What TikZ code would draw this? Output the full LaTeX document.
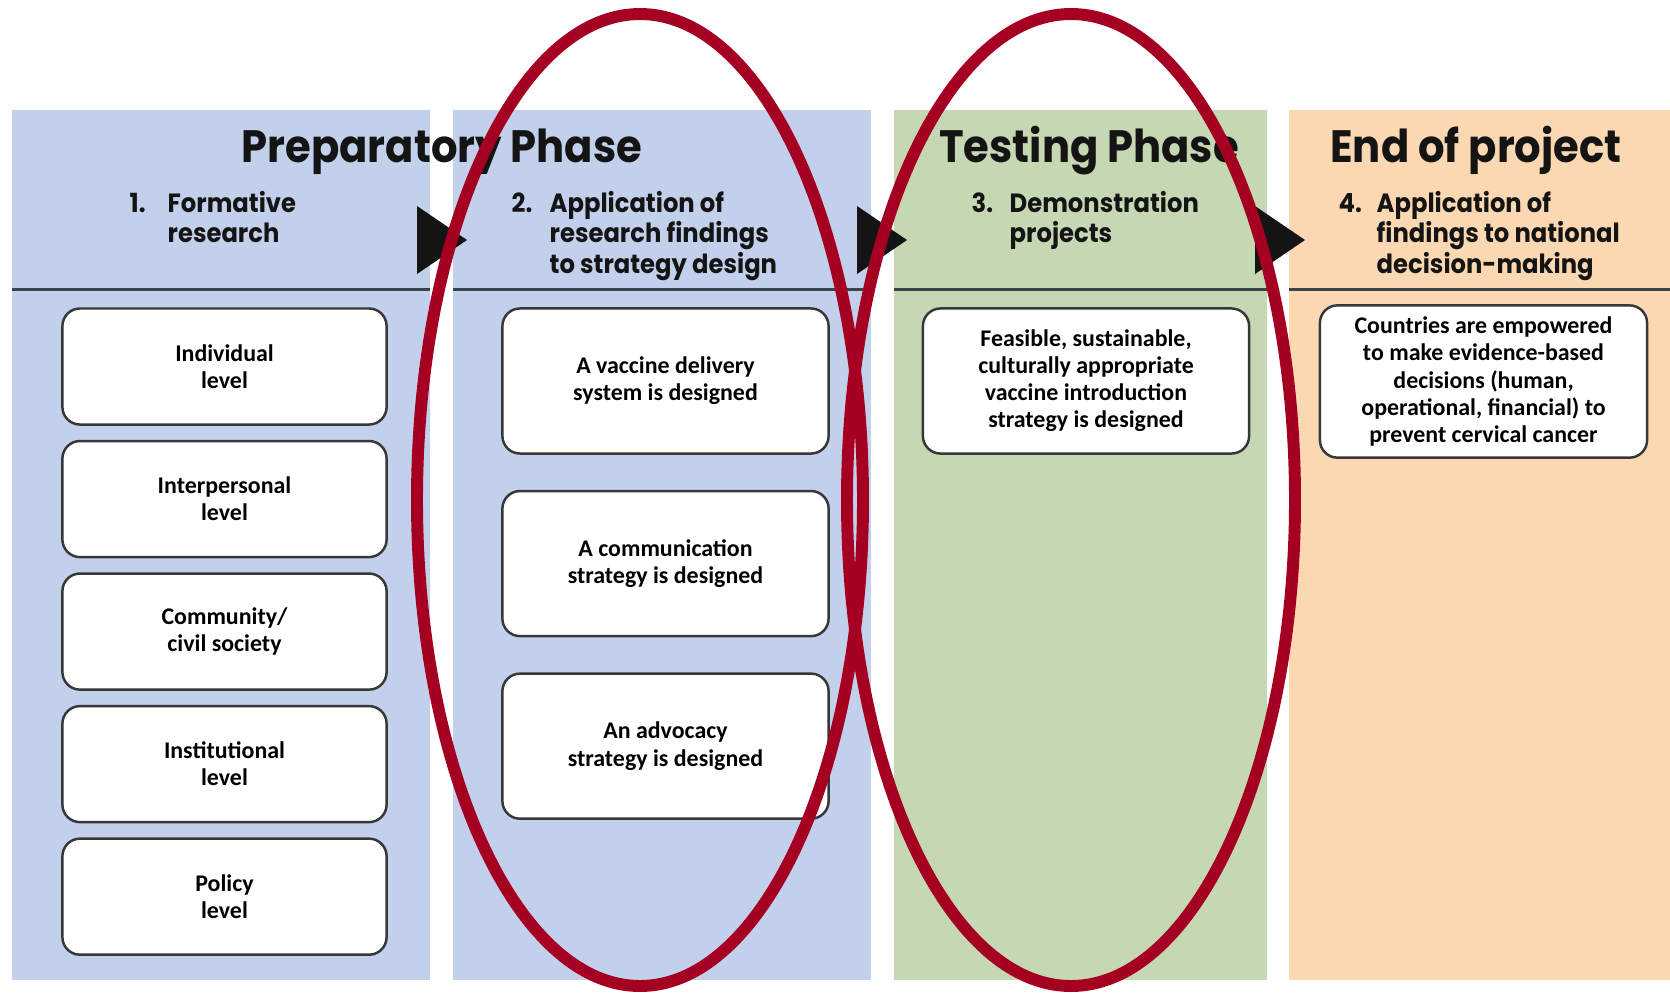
\documentclass[tikz,border=0pt]{standalone}
\usepackage{fontspec}
\usepackage{array}
\setmainfont{Carlito}
\newfontfamily\headfont[FakeStretch=0.92]{Poppins}
\usetikzlibrary{positioning}

\definecolor{prepblue}{RGB}{195,208,235}
\definecolor{testgreen}{RGB}{198,215,180}
\definecolor{endorange}{RGB}{251,216,177}
\definecolor{rulegray}{RGB}{60,66,76}
\definecolor{boxline}{RGB}{55,55,55}
\definecolor{markred}{RGB}{165,0,33}
\definecolor{headink}{RGB}{20,20,20}

\begin{document}
\begin{tikzpicture}[
        x=0.01cm, y=-0.01cm,
        panel/.style={fill=#1},
        separator/.style={draw=rulegray, line width=0.85pt},
        phasehead/.style={anchor=base, inner sep=0pt, text=headink, font=\headfont\bfseries\fontsize{12.9}{14}\selectfont},
        stephead/.style={anchor=base west, inner sep=0pt, text=headink, font=\headfont\bfseries\fontsize{7.5}{8.8}\selectfont},
        levelbox/.style={rectangle, rounded corners=5pt, draw=boxline, line width=0.7pt, fill=white, minimum width=3.24cm, minimum height=1.16cm, align=center, text=black, font=\bfseries\fontsize{6.8}{7.7}\selectfont},
        outcomebox/.style={levelbox, minimum width=3.26cm, minimum height=1.45cm},
        phasearrow/.style={fill=headink},
        ring/.style={draw=markred, line width=3.4pt}
    ]
        \useasboundingbox (0,0) rectangle (1670,993);

        % Column backgrounds
        \fill[panel=prepblue] (12,110) rectangle (430,980);
        \fill[panel=prepblue] (453,110) rectangle (871,980);
        \fill[panel=testgreen] (894,110) rectangle (1267,980);
        \fill[panel=endorange] (1289,110) rectangle (1670,980);

        % Rules under the headings
        \draw[separator] (12,289) -- (430,289);
        \draw[separator] (453,289) -- (871,289);
        \draw[separator] (894,289) -- (1267,289);
        \draw[separator] (1289,289) -- (1670,289);

        % Arrow heads between the columns
        \foreach \ax in {417,857,1255}
            \fill[phasearrow] (\ax,206) -- ++(50,34) -- ++(-50,34) -- cycle;

        % Phase titles
        \node (prephead) [phasehead] at (442,162) {Preparatory Phase};
        \node (testhead) [phasehead] at (1089,162) {Testing Phase};
        \node (endhead) [phasehead] at (1476,162) {End of project};

        % Steps
        \node (formhead) [stephead] at (129,212) {\begin{tabular}[t]{@{}p{10.8pt}@{}l@{}}1. & Formative\\ & research\end{tabular}};
        \node (applyhead) [stephead] at (511,212) {\begin{tabular}[t]{@{}p{10.8pt}@{}l@{}}2. & Application of\\ & research findings\\ & to strategy design\end{tabular}};
        \node (demohead) [stephead] at (971,212) {\begin{tabular}[t]{@{}p{10.8pt}@{}l@{}}3. & Demonstration\\ & projects\end{tabular}};
        \node (nathead) [stephead] at (1338,212) {\begin{tabular}[t]{@{}p{10.8pt}@{}l@{}}4. & Application of\\ & findings to national\\ & decision-making\end{tabular}};

        % Column 1: levels
        \node (indiv) [levelbox] at (224.5,366.5) {Individual\\level};
        \node (interp) [levelbox, below=0.14cm of indiv] {Interpersonal\\level};
        \node (commun) [levelbox, below=0.14cm of interp] {Community/\\civil society};
        \node (instit) [levelbox, below=0.14cm of commun] {Institutional\\level};
        \node (policy) [levelbox, below=0.14cm of instit] {Policy\\level};

        % Column 2: strategy design
        \node (delivery) [outcomebox] at (665.5,381) {A vaccine delivery\\system is designed};
        \node (commstrat) [outcomebox, below=0.35cm of delivery] {A communication\\strategy is designed};
        \node (advocacy) [outcomebox, below=0.35cm of commstrat] {An advocacy\\strategy is designed};

        % Columns 3 and 4
        \node (feasible) [outcomebox] at (1086,381) {Feasible, sustainable,\\culturally appropriate\\vaccine introduction\\strategy is designed};
        \node (empower) [outcomebox, minimum width=3.27cm] at (1483.5,381.5) {Countries are empowered\\to make evidence-based\\decisions (human,\\operational, financial) to\\prevent cervical cancer};

        % Red marks round columns 2 and 3
        \draw[ring] (640,500) ellipse [x radius=223, y radius=486];
        \draw[ring] (1071,500) ellipse [x radius=224, y radius=486];

    \end{tikzpicture}
\end{document}
